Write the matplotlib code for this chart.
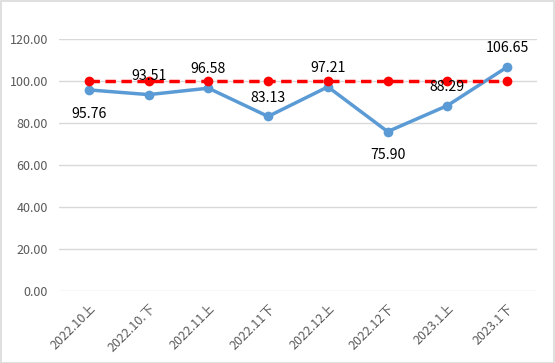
import matplotlib.pyplot as plt
from matplotlib.patches import Rectangle

plt.rcParams['font.family'] = ['Noto Sans CJK SC', 'DejaVu Sans']

# 数据
periods = ['2022.10上', '2022.10.下', '2022.11上', '2022.11下',
           '2022.12上', '2022.12下', '2023.1上', '2023.1下']
actual = [95.76, 93.51, 96.58, 83.13, 97.21, 75.90, 88.29, 106.65]
target = [100, 100, 100, 100, 100, 100, 100, 100]
label_pos = ['below', 'above', 'above', 'above', 'above', 'below', 'above', 'above']

fig = plt.figure(figsize=(5.55, 3.63), dpi=100)
ax = fig.add_axes([0.1063, 0.1983, 0.8613, 0.6943])

x = range(len(periods))
ax.plot(x, actual, color='#5B9BD5', lw=2.5, marker='o', ms=6, zorder=3)
ax.plot(x, target, color='#FF0000', lw=2.5, ls=(0, (3, 1.6)), marker='o', ms=6, zorder=4)

for i, v in enumerate(actual):
    dy = 13.5 if label_pos[i] == 'above' else -17
    ax.annotate('%.2f' % v, (i, v), xytext=(0, dy), textcoords='offset points',
                ha='center', va='center', fontsize=10.2, color='black', zorder=5)

ax.set_xlim(-0.5, len(periods) - 0.5)
ax.set_ylim(0, 120)
ax.set_yticks(range(0, 121, 20))
ax.set_yticklabels(['%.2f' % t for t in range(0, 121, 20)])
ax.set_xticks(list(x))
ax.set_xticklabels(periods, rotation=45, ha='right', rotation_mode='anchor')
ax.tick_params(axis='both', length=0, colors='#595959', labelsize=9)
ax.tick_params(axis='x', pad=8)
ax.tick_params(axis='y', pad=8)
ax.grid(axis='y', color='#D9D9D9', lw=1)
ax.set_axisbelow(True)
for s in ax.spines.values():
    s.set_visible(False)

fig.patches.append(Rectangle((0.001, 0.001), 0.997, 0.996, transform=fig.transFigure,
                             fill=False, edgecolor='#D9D9D9', lw=1.2))

plt.savefig('out.png', dpi=100)
